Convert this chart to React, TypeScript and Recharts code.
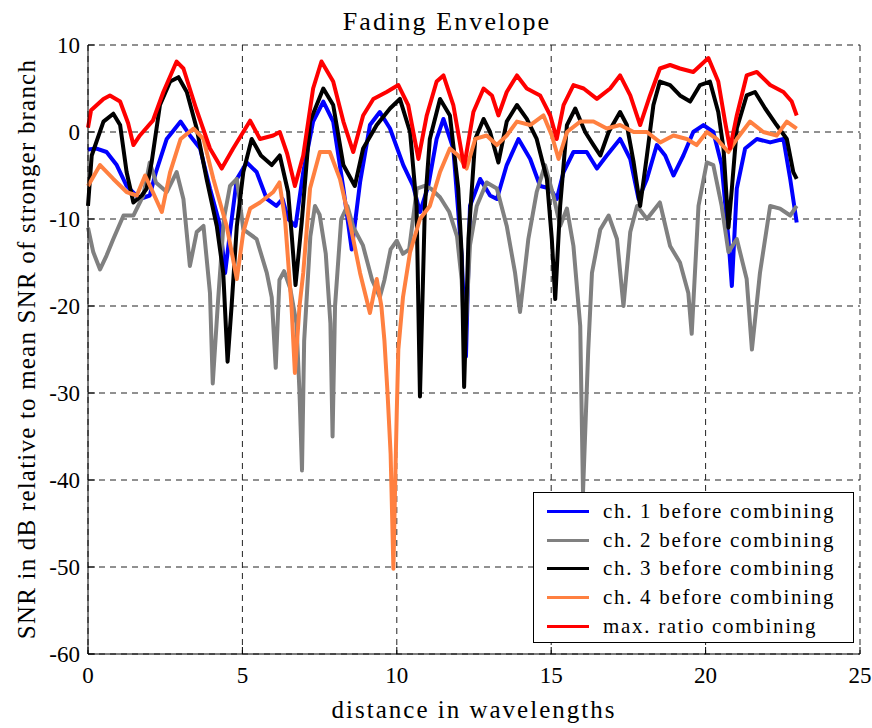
import { CartesianGrid, Line, LineChart, XAxis, YAxis } from 'recharts'

const FONT = '"Liberation Serif", "Times New Roman", serif'

const X_TICKS = [0, 5, 10, 15, 20, 25]
const Y_TICKS = [-60, -50, -40, -30, -20, -10, 0, 10]

// [distance in wavelengths, SNR dB]
const CH1: [number, number][] = [
  [0, -2], [0.28, -1.9], [0.6, -2.3], [0.93, -3.8], [1.25, -6.2], [1.68, -7.7], [2.0, -7.3], [2.2, -4.6],
  [2.55, -0.8], [3.0, 1.2], [3.3, -0.4], [3.63, -1.9], [3.95, -6.5], [4.28, -10.8], [4.44, -16.2], [4.6, -11.5],
  [4.82, -5.4], [5.14, -3.5], [5.46, -4.6], [5.79, -7.7], [6.1, -8.5], [6.3, -7.7], [6.48, -10], [6.72, -10.8],
  [6.97, -4.6], [7.29, 1.2], [7.62, 3.5], [7.94, 1.2], [8.27, -6.5], [8.54, -13.5], [8.81, -5.8], [9.13, 0.8],
  [9.45, 2.3], [9.78, 0.4], [10.21, -3.8], [10.53, -6.2], [10.75, -9.2], [11.02, -6.2], [11.29, -0.8], [11.51, 1.5],
  [11.83, -1.9], [12.1, -14.2], [12.24, -25.8], [12.37, -8.5], [12.7, -5.4], [13.02, -7.3], [13.24, -7.7], [13.56, -3.8],
  [13.94, -0.8], [14.32, -3.1], [14.64, -6.2], [14.97, -6.5], [15.18, -7.7], [15.4, -4.6], [15.72, -2.3], [16.15, -2.3],
  [16.48, -4.2], [16.8, -2.7], [17.23, -0.8], [17.56, -3.1], [17.83, -7.7], [18.1, -5.4], [18.42, -1.5], [18.69, -2.7],
  [18.96, -5], [19.28, -2.7], [19.6, 0], [19.93, 0.8], [20.25, 0], [20.52, -3.8], [20.74, -12.3], [20.85, -17.7],
  [21.01, -6.5], [21.28, -1.9], [21.66, -0.8], [22.09, -1.2], [22.52, -0.8], [22.74, -5.4], [22.95, -10.4],
]

const CH2: [number, number][] = [
  [0, -11], [0.17, -13.8], [0.39, -15.8], [0.6, -14.2], [0.82, -12.3], [1.15, -9.6], [1.47, -9.6], [1.79, -7.3],
  [2.0, -3.5], [2.2, -5.8], [2.55, -6.9], [2.87, -4.6], [3.09, -7.7], [3.3, -15.4], [3.52, -11.5], [3.74, -10.8],
  [3.95, -18.5], [4.04, -28.9], [4.2, -20], [4.4, -10], [4.6, -6.2], [4.82, -5.4], [5.03, -11.2], [5.46, -12.3],
  [5.79, -16.2], [5.95, -19], [6.08, -27.1], [6.2, -17], [6.35, -16], [6.55, -18], [6.75, -22], [6.85, -30],
  [6.93, -38.9], [7.0, -24], [7.2, -12], [7.35, -8.5], [7.5, -9.5], [7.7, -14], [7.85, -22], [7.92, -35],
  [8.0, -20], [8.2, -10], [8.4, -8.5], [8.6, -11], [8.9, -13], [9.2, -17], [9.45, -19], [9.6, -17],
  [9.8, -13.5], [10.0, -12.5], [10.2, -14], [10.4, -13.5], [10.65, -6.5], [10.9, -6.2], [11.1, -6.5], [11.4, -7.5],
  [11.7, -9.2], [11.95, -12], [12.1, -17], [12.2, -25], [12.37, -13], [12.59, -8.5], [12.91, -5.8], [13.24, -6.5],
  [13.56, -10.8], [13.83, -16.2], [13.99, -20.7], [14.26, -12.3], [14.53, -6.9], [14.8, -3.8], [15.07, -7.3], [15.29, -10.8],
  [15.51, -8.8], [15.72, -13.1], [15.94, -22.3], [16.03, -41.4], [16.2, -25], [16.32, -16.2], [16.59, -11.2], [16.86, -9.6],
  [17.13, -12.3], [17.34, -20], [17.56, -11.5], [17.78, -8.5], [18.1, -10], [18.52, -8.1], [18.85, -13.1], [19.17, -15],
  [19.44, -18.5], [19.55, -23.2], [19.77, -8.5], [20.04, -3.5], [20.25, -3.8], [20.52, -8.5], [20.74, -13.8], [21.01, -12.3],
  [21.33, -16.9], [21.5, -25], [21.76, -16.2], [22.09, -8.5], [22.41, -8.8], [22.74, -9.6], [22.95, -8.5],
]

const CH3: [number, number][] = [
  [0, -8.5], [0.12, -2.7], [0.5, 1.2], [0.82, 2.1], [1.04, 0.8], [1.25, -4.6], [1.47, -8.1], [1.74, -7.3],
  [1.9, -6.5], [2.06, -3.5], [2.33, 3.1], [2.66, 5.8], [2.93, 6.3], [3.2, 4.6], [3.52, 0.4], [3.84, -5.4],
  [4.17, -10.8], [4.38, -16.2], [4.52, -26.4], [4.65, -20], [4.82, -10.8], [5.03, -4.6], [5.3, -0.8], [5.6, -2.7],
  [5.95, -3.8], [6.21, -2.7], [6.48, -6.9], [6.6, -12], [6.72, -17.6], [6.92, -10.4], [7.19, 1.2], [7.62, 5],
  [7.94, 3.1], [8.27, -3.8], [8.64, -6.2], [8.91, -1.9], [9.35, 0.8], [9.78, 2.7], [10.1, 3.8], [10.43, 0],
  [10.64, -8.5], [10.75, -30.4], [10.91, -8.5], [11.07, -0.8], [11.4, 3.8], [11.72, 1.9], [11.99, -6.5], [12.1, -14],
  [12.18, -29.3], [12.32, -12.3], [12.54, -0.8], [12.81, 1.5], [13.02, 0], [13.29, -3.5], [13.56, 1.2], [13.89, 3.1],
  [14.21, 1.5], [14.53, -0.8], [14.86, -5.4], [15.02, -12.3], [15.13, -19.2], [15.29, -8.5], [15.51, 0.8], [15.78, 2.7],
  [16.1, 0], [16.37, -1.5], [16.59, -2.7], [16.86, 0], [17.23, 2.3], [17.45, 0.8], [17.67, -3.5], [17.88, -8.5],
  [18.1, -2.7], [18.31, 3.1], [18.52, 5.8], [18.85, 5.4], [19.17, 4.2], [19.5, 3.5], [19.82, 5.4], [20.14, 5.8],
  [20.41, 2.3], [20.58, -1.9], [20.74, -11], [20.85, -6.5], [21.01, 0.4], [21.33, 4.2], [21.6, 4.6], [21.93, 2.7],
  [22.3, 0.8], [22.63, -0.8], [22.84, -4.6], [22.95, -5.4],
]

const CH4: [number, number][] = [
  [0, -6.2], [0.39, -3.8], [0.82, -5.4], [1.25, -6.9], [1.58, -7.3], [1.85, -5], [2.1, -6.9], [2.39, -9.2],
  [2.66, -4.6], [3.0, -0.8], [3.42, 0.4], [3.74, -0.8], [4.06, -5.4], [4.49, -10.8], [4.82, -16.9], [5.03, -11.5],
  [5.25, -8.8], [5.57, -8.1], [6.0, -6.9], [6.2, -5.8], [6.38, -10], [6.59, -20], [6.7, -27.7], [6.85, -20],
  [6.97, -16.2], [7.19, -6.5], [7.51, -2.3], [7.83, -2.3], [8.16, -5.4], [8.48, -10.4], [8.81, -16.2], [9.13, -20.8],
  [9.35, -16.9], [9.5, -20], [9.6, -24], [9.7, -30], [9.8, -37], [9.89, -50.2], [9.95, -40], [10.0, -32],
  [10.05, -25], [10.2, -19], [10.43, -13.8], [10.75, -10], [11.07, -8.5], [11.4, -4.6], [11.72, -1.9], [11.99, -2.7],
  [12.26, -4.2], [12.54, -0.8], [12.91, -0.4], [13.24, -1.5], [13.56, -0.4], [13.89, 1.2], [14.32, 0.8], [14.75, 1.9],
  [15.02, -0.4], [15.24, -3.1], [15.51, 0], [15.94, 1.2], [16.37, 1.2], [16.8, 0.4], [17.23, 0.8], [17.67, 0],
  [18.1, 0], [18.53, -1.2], [18.96, -0.4], [19.39, -0.8], [19.71, -1.5], [20.04, 0], [20.36, -0.8], [20.74, -2.3],
  [21.01, -0.8], [21.44, 1.2], [21.87, 0], [22.3, -0.4], [22.63, 1.2], [22.95, 0.4],
]

const MRC: [number, number][] = [
  [0, 0.5], [0.1, 2.5], [0.5, 3.8], [0.71, 4.2], [1.04, 3.5], [1.3, 1], [1.47, -1.5], [1.68, -0.4],
  [2.1, 1.3], [2.44, 4.6], [2.87, 8.1], [3.09, 7.3], [3.5, 2.7], [3.95, -1.9], [4.33, -4.2], [4.7, -1.9],
  [5.25, 1.3], [5.57, -0.8], [6.0, -0.4], [6.21, 0], [6.45, -2.5], [6.7, -6.2], [6.97, -2.7], [7.29, 5],
  [7.56, 8.1], [7.94, 5.8], [8.27, 1.2], [8.59, -2.3], [8.91, 1.9], [9.24, 3.8], [9.67, 4.6], [10.05, 5.4],
  [10.37, 3.1], [10.7, -3.1], [10.97, 1.9], [11.29, 5.8], [11.51, 6.5], [11.83, 3.1], [12.18, -4], [12.48, 2.3],
  [12.81, 5], [13.08, 4.2], [13.29, 1.9], [13.56, 4.6], [13.89, 6.5], [14.21, 5], [14.64, 4.2], [14.97, 1.9],
  [15.18, -0.8], [15.4, 3.1], [15.72, 5.4], [16.05, 5], [16.48, 3.8], [16.91, 5], [17.23, 6.5], [17.56, 4.2],
  [17.88, 0.8], [18.2, 4.2], [18.52, 7.3], [18.85, 7.7], [19.17, 7.3], [19.6, 6.9], [20.09, 8.5], [20.41, 5.8],
  [20.63, 1.2], [20.79, -1.9], [21.01, 1.9], [21.33, 6.5], [21.66, 6.9], [22.09, 5.4], [22.52, 4.6], [22.79, 3.5],
  [22.95, 1.9],
]

const SERIES = [
  { name: 'ch. 1 before combining', color: '#0000ff', points: CH1 },
  { name: 'ch. 2 before combining', color: '#808080', points: CH2 },
  { name: 'ch. 3 before combining', color: '#000000', points: CH3 },
  { name: 'ch. 4 before combining', color: '#ff8040', points: CH4 },
  { name: 'max. ratio combining', color: '#ff0000', points: MRC },
]

const tickStyle = { fontFamily: FONT, fontSize: 23, fill: '#000' }

// matlab-style legend box, lower right inside the axes
function LegendBox() {
  return (
    <div
      style={{
        position: 'absolute',
        left: 533,
        top: 492,
        boxSizing: 'border-box',
        width: 321,
        height: 151,
        border: '1.5px solid #000',
        background: '#fff',
        padding: '4px 0 0 13px',
        fontFamily: FONT,
        fontSize: 21,
        letterSpacing: 1.7,
      }}
    >
      {SERIES.map((s) => (
        <div key={s.name} style={{ display: 'flex', alignItems: 'center', height: 28.8 }}>
          <div style={{ width: 42, height: 3, background: s.color, marginRight: 14 }} />
          <span style={{ lineHeight: 1 }}>{s.name}</span>
        </div>
      ))}
    </div>
  )
}

export default function App() {
  return (
    <div style={{ position: 'absolute', left: 0, top: 0, width: 872, height: 728, background: '#fff' }}>
      <div
        style={{
          position: 'absolute', left: 447, top: 9, transform: 'translateX(-50%)', whiteSpace: 'nowrap',
          fontFamily: FONT, fontSize: 26, lineHeight: 1, letterSpacing: 2.1,
        }}
      >
        Fading Envelope
      </div>
      <div
        style={{
          position: 'absolute', left: 474, top: 696, transform: 'translateX(-50%)', whiteSpace: 'nowrap',
          fontFamily: FONT, fontSize: 25, letterSpacing: 2,
        }}
      >
        distance in wavelengths
      </div>
      <div
        style={{
          position: 'absolute', left: 27, top: 349, transform: 'translate(-50%, -50%) rotate(-90deg)', whiteSpace: 'nowrap',
          fontFamily: FONT, fontSize: 25, letterSpacing: 1.2,
        }}
      >
        SNR in dB relative to mean SNR of stronger branch
      </div>
      <LineChart width={872} height={728} margin={{ top: 45, right: 12, bottom: 0, left: 0 }}>
        <CartesianGrid stroke="#222" strokeDasharray="6 5" />
        <XAxis
          dataKey="x"
          type="number"
          domain={[0, 25]}
          ticks={X_TICKS}
          height={74}
          stroke="#000"
          tickSize={-7}
          tickMargin={20}
          tick={tickStyle}
        />
        <XAxis
          xAxisId="top"
          orientation="top"
          type="number"
          domain={[0, 25]}
          ticks={X_TICKS}
          height={0}
          stroke="#000"
          tickSize={-7}
          tick={false}
        />
        <YAxis
          type="number"
          domain={[-60, 10]}
          ticks={Y_TICKS}
          width={88}
          stroke="#000"
          tickSize={-7}
          tickMargin={15}
          tick={tickStyle}
        />
        <YAxis
          yAxisId="right"
          orientation="right"
          type="number"
          domain={[-60, 10]}
          ticks={Y_TICKS}
          width={0}
          stroke="#000"
          tickSize={-7}
          tick={false}
        />
        {SERIES.map((s) => (
          <Line
            key={s.name}
            name={s.name}
            data={s.points.map(([x, y]) => ({ x, y }))}
            dataKey="y"
            stroke={s.color}
            strokeWidth={4}
            dot={false}
            strokeLinejoin="round"
            isAnimationActive={false}
          />
        ))}
      </LineChart>
      <LegendBox />
    </div>
  )
}
